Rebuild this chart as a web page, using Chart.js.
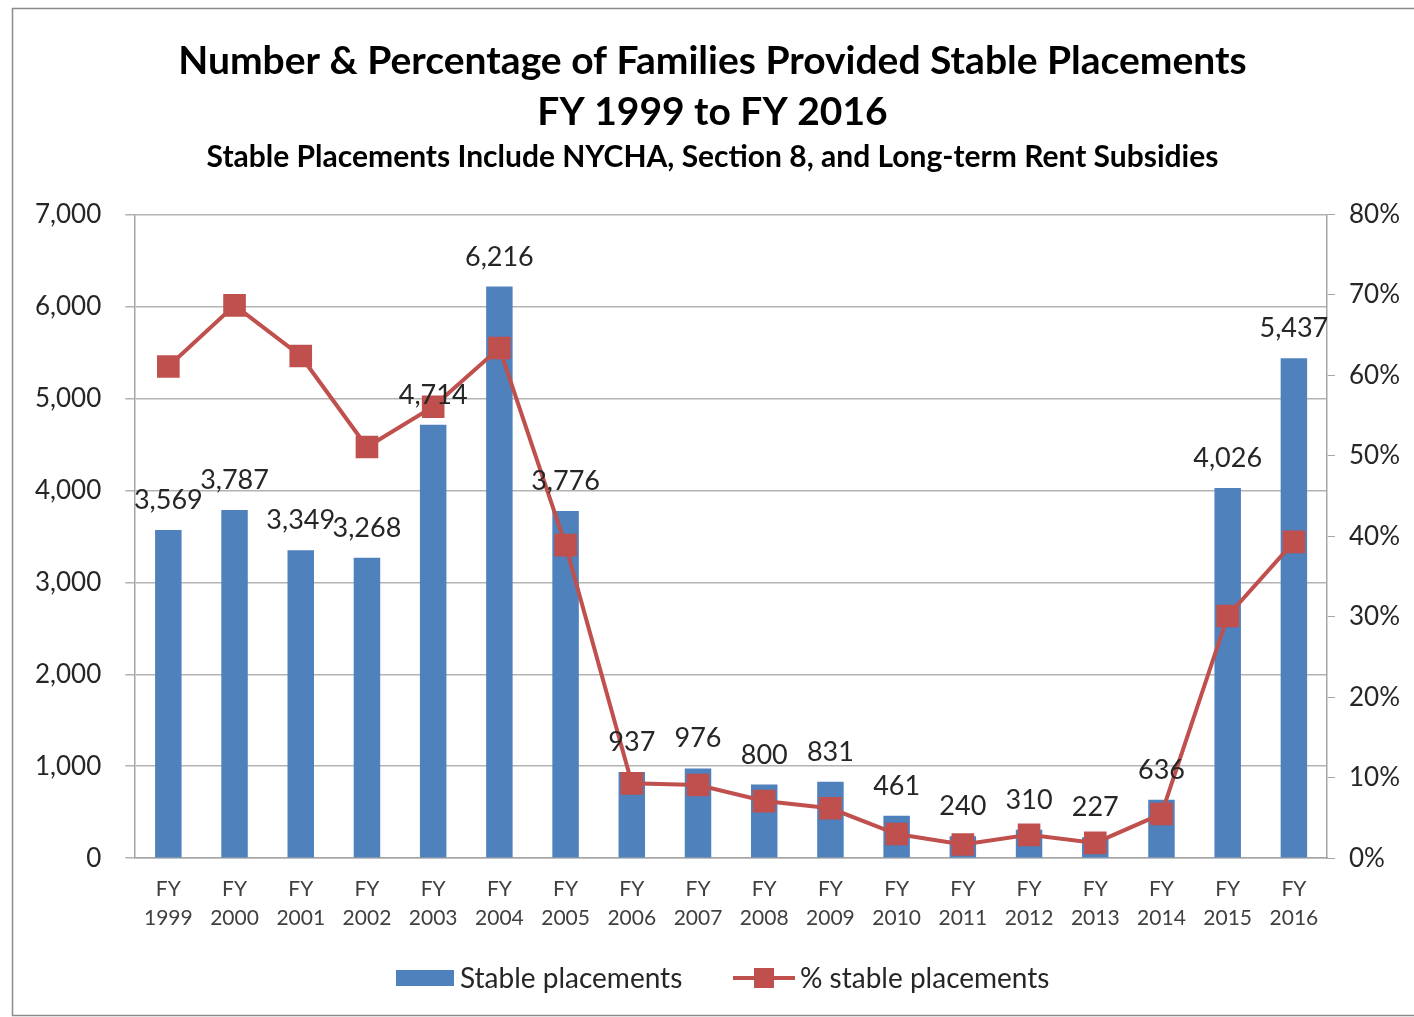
<!DOCTYPE html>
<html>
<head>
<meta charset="utf-8">
<script src="https://cdn.jsdelivr.net/npm/chart.js@4"></script>
<style>
  html, body { margin: 0; padding: 0; background: #fff; }
  #wrap { width: 1414px; height: 1017px; }
</style>
</head>
<body>
<div id="wrap"><canvas id="placements" width="1414" height="1017"></canvas></div>
<script>
var years = ["1999","2000","2001","2002","2003","2004","2005","2006","2007","2008","2009","2010","2011","2012","2013","2014","2015","2016"];
var stablePlacements = [3569, 3787, 3349, 3268, 4714, 6216, 3776, 937, 976, 800, 831, 461, 240, 310, 227, 636, 4026, 5437];
var pctStable = [0.611, 0.687, 0.624, 0.511, 0.561, 0.634, 0.389, 0.093, 0.091, 0.071, 0.062, 0.030, 0.017, 0.029, 0.019, 0.055, 0.301, 0.393];
var leftTicks = [0, 1000, 2000, 3000, 4000, 5000, 6000, 7000];
var rightTicks = [0, 0.1, 0.2, 0.3, 0.4, 0.5, 0.6, 0.7, 0.8];

var BLUE = "#4F81BD";
var RED = "#C0504D";
var FONT = "Lato, 'Liberation Sans', sans-serif";

var labels = years.map(function (y) { return ["FY", y]; });

// frame, bar value labels and the legend
var extras = {
  id: "extras",
  beforeDraw: function (chart) {
    var c = chart.ctx;
    c.save();
    c.fillStyle = "#fff";
    c.fillRect(0, 0, chart.width, chart.height);
    c.strokeStyle = "#8c8c8c";
    c.lineWidth = 1.5;
    c.strokeRect(12.5, 8.5, chart.width + 20, chart.height - 10);
    c.restore();
  },
  afterDatasetsDraw: function (chart) {
    var c = chart.ctx;
    var meta = chart.getDatasetMeta(1);
    c.save();
    c.font = "27px " + FONT;
    c.fillStyle = "#262626";
    c.textAlign = "center";
    c.textBaseline = "alphabetic";
    meta.data.forEach(function (bar, i) {
      c.fillText(stablePlacements[i].toLocaleString("en-US"), bar.x, bar.y - 21);
    });
    c.restore();
  },
  afterDraw: function (chart) {
    var c = chart.ctx;
    var y = 978;
    c.save();
    c.font = "28px " + FONT;
    c.textBaseline = "middle";
    c.fillStyle = BLUE;
    c.fillRect(396, y - 8, 58, 16);
    c.fillStyle = "#262626";
    c.fillText("Stable placements", 460, y + 1);
    c.strokeStyle = RED;
    c.lineWidth = 4;
    c.beginPath();
    c.moveTo(733, y);
    c.lineTo(795, y);
    c.stroke();
    c.fillStyle = RED;
    c.fillRect(754, y - 10, 20, 20);
    c.fillStyle = "#262626";
    c.fillText("% stable placements", 800, y + 1);
    c.restore();
  }
};

var ctx = document.getElementById("placements").getContext("2d");
var myChart = new Chart(ctx, {
  type: "bar",
  data: {
    labels: labels,
    datasets: [
      {
        type: "line",
        label: "% stable placements",
        data: pctStable,
        yAxisID: "y1",
        borderColor: RED,
        backgroundColor: RED,
        borderWidth: 4,
        pointStyle: "rect",
        pointRadius: 16,
        pointBorderWidth: 0,
        tension: 0,
        order: 0
      },
      {
        type: "bar",
        label: "Stable placements",
        data: stablePlacements,
        yAxisID: "y",
        backgroundColor: BLUE,
        borderWidth: 0,
        barPercentage: 0.4,
        categoryPercentage: 1,
        order: 1
      }
    ]
  },
  options: {
    responsive: false,
    animation: false,
    devicePixelRatio: 1,
    layout: { padding: { top: 10, left: 11, right: 0, bottom: 78 } },
    scales: {
      x: {
        offset: true,
        grid: { display: false, drawOnChartArea: false, tickLength: 10, offset: true, color: "#a6a6a6", drawTicks: true },
        border: { color: "#a6a6a6", width: 1.5 },
        ticks: { color: "#404040", font: { family: FONT, size: 21, lineHeight: 1.4 }, maxRotation: 0, autoSkip: false, padding: 6 }
      },
      y: {
        position: "left",
        min: 0,
        max: 7000,
        afterBuildTicks: function (axis) { axis.ticks = leftTicks.map(function (v) { return { value: v }; }); },
        grid: { color: "#b3b3b3", lineWidth: 1.5, tickLength: 10 },
        border: { color: "#a6a6a6", width: 1.5 },
        ticks: {
          color: "#262626",
          font: { family: FONT, size: 26 },
          padding: 24,
          callback: function (v) { return v.toLocaleString("en-US"); }
        }
      },
      y1: {
        position: "right",
        min: 0,
        max: 0.8,
        afterBuildTicks: function (axis) { axis.ticks = rightTicks.map(function (v) { return { value: v }; }); },
        grid: { drawOnChartArea: false, color: "#a6a6a6", tickLength: 8 },
        border: { color: "#a6a6a6", width: 1.5 },
        ticks: {
          color: "#262626",
          font: { family: FONT, size: 26 },
          padding: 14,
          callback: function (v) { return Math.round(v * 100) + "%"; }
        }
      }
    },
    plugins: {
      legend: { display: false },
      tooltip: { enabled: false },
      title: {
        display: true,
        text: ["Number & Percentage of Families Provided Stable Placements", "FY 1999 to FY 2016"],
        color: "#000",
        font: { family: FONT, size: 39, weight: "bold", lineHeight: 1.3 },
        padding: { top: 26, bottom: 2 }
      },
      subtitle: {
        display: true,
        text: "Stable Placements Include NYCHA, Section 8, and Long-term Rent Subsidies",
        color: "#000",
        font: { family: FONT, size: 30, weight: "bold" },
        padding: { top: 0, bottom: 39 }
      }
    }
  },
  plugins: [extras]
});
</script>
</body>
</html>
